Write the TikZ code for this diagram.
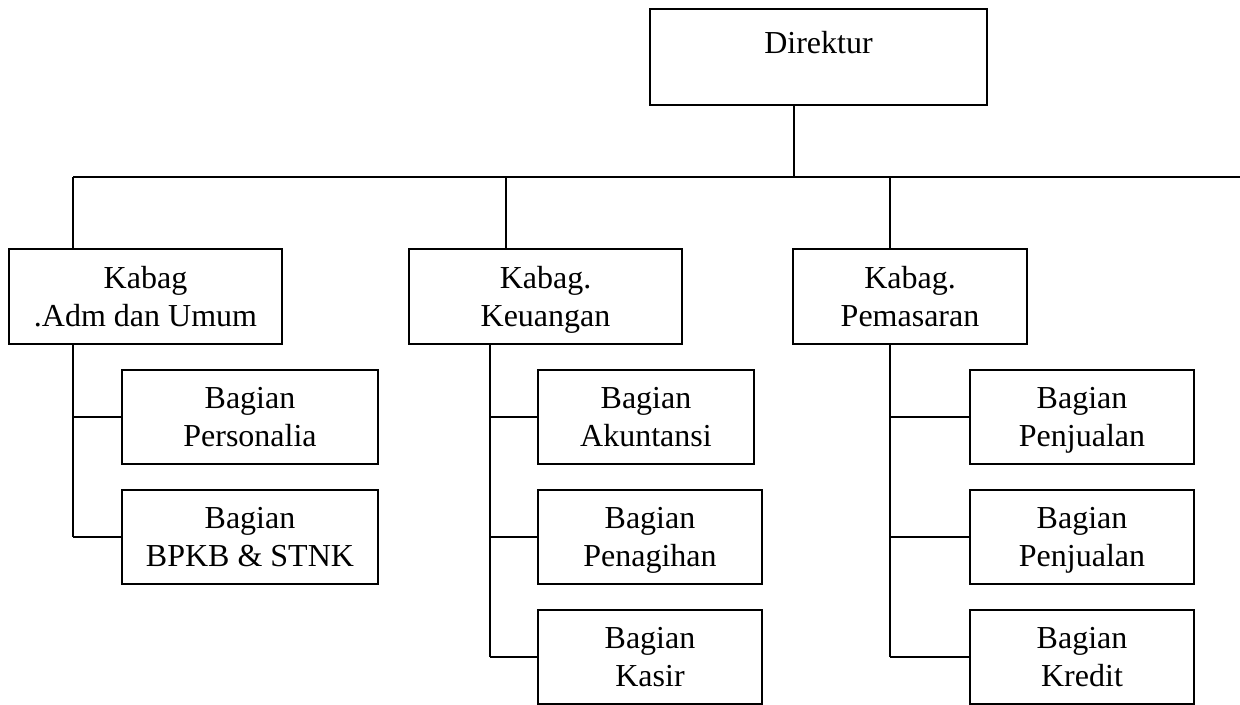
\documentclass[tikz,border=0pt]{standalone}
\usepackage{fontspec}
\setmainfont{Liberation Serif}
\usetikzlibrary{positioning}
\tikzset{
	unit/.style={draw, line width=0.6pt, shape=rectangle, align=center, inner sep=0, text depth=0pt, font=\fontsize{16}{19}\selectfont},
	link/.style={line width=0.6pt}
}
\begin{document}
\begin{tikzpicture}[x=0.5pt, y=-0.5pt]
	\useasboundingbox (0,0) rectangle (1240,705);
	% direktur
	\node[unit, minimum width=168.5pt, minimum height=48pt] (dir) at (818.5,57) {};
	\node[anchor=north, inner sep=0, font=\fontsize{16}{19}\selectfont] (dirtext) at ([yshift=-11.5pt]dir.north) {Direktur};
	% kepala bagian
	\node[unit, minimum width=136.5pt, minimum height=47.5pt] (adm) at (145.5,296.5) {Kabag\\.Adm dan Umum};
	\node[unit, minimum width=136.5pt, minimum height=47.5pt] (keu) at (545.5,296.5) {Kabag.\\Keuangan};
	\node[unit, minimum width=117pt, minimum height=47.5pt] (pem) at (910,296.5) {Kabag.\\Pemasaran};
	% bagian
	\foreach \n/\x/\y/\w/\t in {pers/250/417/128/Personalia, bpkb/250/537/128/BPKB \& STNK,
		akun/646/417/108/Akuntansi, tagih/650/537/112/Penagihan, kasir/650/657/112/Kasir,
		jual/1082/417/112/Penjualan, jualb/1082/537/112/Penjualan, kredit/1082/657/112/Kredit}
		{
			\node[unit, minimum width=\w pt, minimum height=47pt] (\n) at (\x,\y) {Bagian\\\t};
		}
	% garis
	\coordinate (busL) at (73,177);
	\coordinate (busM) at (794,177);
	\coordinate (busK) at (506,177);
	\coordinate (busP) at (890,177);
	\coordinate (busR) at (1240,177);
	\coordinate (keuT) at (490,0);
	\draw[link] (dir.south -| busM) -- (busM);
	\draw[link] (busL) -- (busR);
	\foreach \c/\n in {busL/adm, busK/keu, busP/pem}
		\draw[link] (\c) -- (\c |- \n.north);
	\draw[link] (busL |- adm.south) -- (busL |- bpkb.west);
	\draw[link] (keuT |- keu.south) -- (keuT |- kasir.west);
	\draw[link] (busP |- pem.south) -- (busP |- kredit.west);
	\foreach \c/\n in {busL/pers, busL/bpkb, keuT/akun, keuT/tagih, keuT/kasir, busP/jual, busP/jualb, busP/kredit}
		\draw[link] (\c |- \n.west) -- (\n.west);
\end{tikzpicture}
\end{document}
